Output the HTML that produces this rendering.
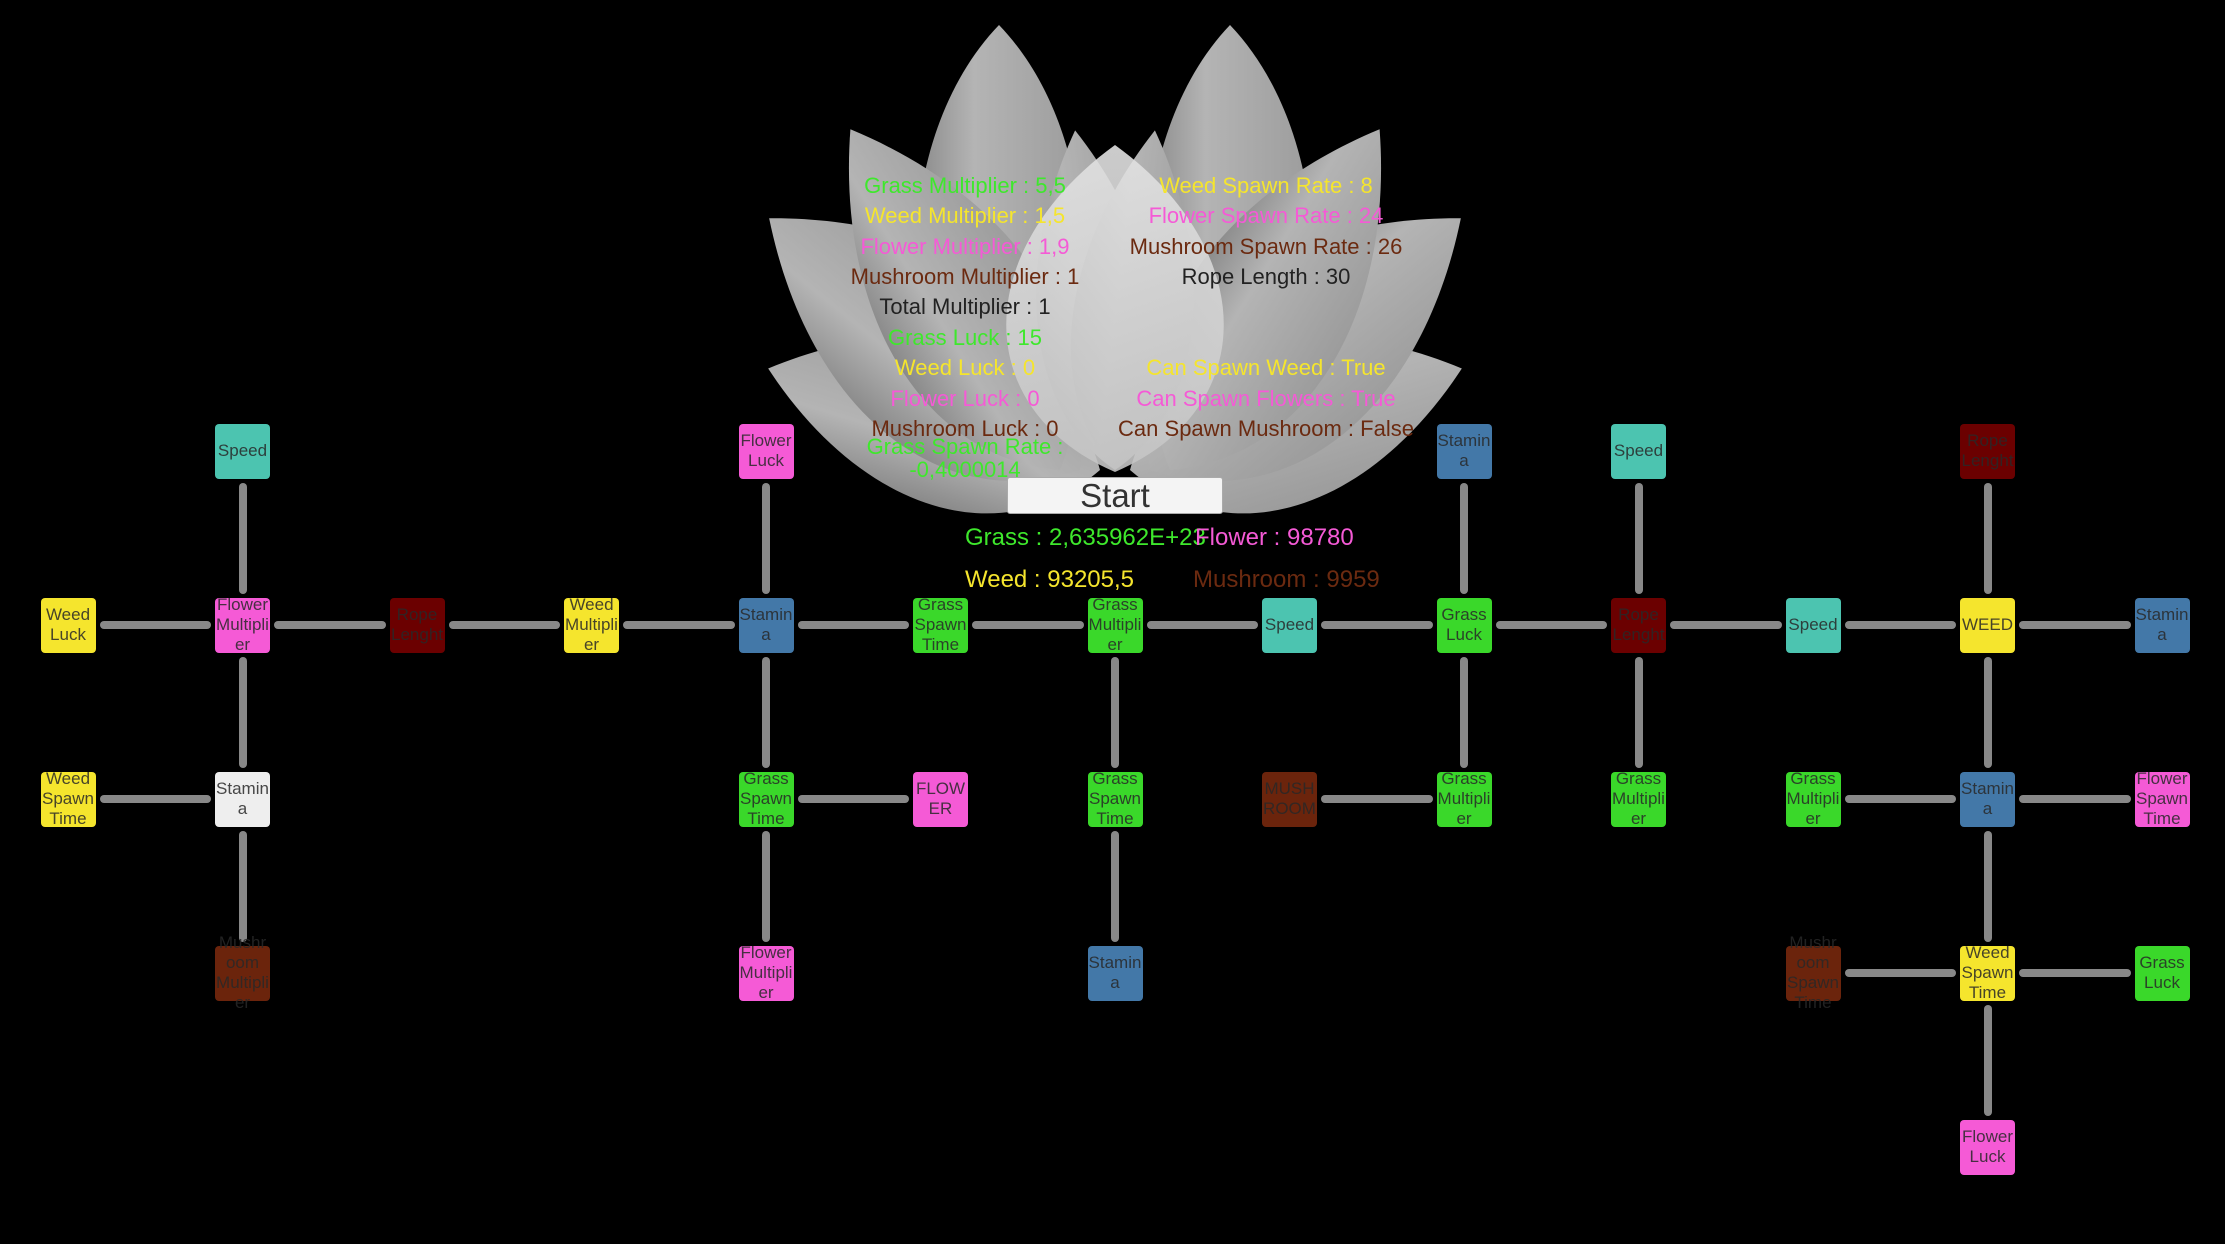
<!DOCTYPE html>
<html><head><meta charset="utf-8"><style>
html,body{margin:0;padding:0;background:#000;}
body{width:2225px;height:1244px;position:relative;overflow:hidden;font-family:"Liberation Sans",sans-serif;}
.n{position:absolute;width:55px;height:55px;border-radius:4px;display:flex;align-items:center;justify-content:center;text-align:center;font-size:17px;line-height:20px;color:rgba(40,40,40,.85);white-space:nowrap;overflow:visible;}
.h{position:absolute;height:8px;width:111.5px;background:#888;border-radius:4px;}
.v{position:absolute;width:8px;height:111px;background:#888;border-radius:4px;}
.t{position:absolute;width:460px;text-align:center;font-size:22px;line-height:30px;white-space:nowrap;}
.L{left:735px}.R{left:1036px}
.g{color:#3ee82c}.y{color:#f5e52d}.p{color:#f55ad6}.b{color:#6b2a10}.k{color:#222}
.te{background:#4cc4b0}.ye{background:#f5e52d}.bl{background:#4378a8}.pi{background:#f55ad6}.gr{background:#3ad82a}.dr{background:#6b0000}.br{background:#6b240c}.wh{background:#eeeeee}
</style></head><body>
<svg width="2225" height="1244" style="position:absolute;left:0;top:0">
<defs>
<linearGradient id="pg" x1="0" y1="0" x2="1" y2="0"><stop offset="0" stop-color="#8a8a8a"/><stop offset="0.35" stop-color="#b4b4b4"/><stop offset="1" stop-color="#9c9c9c"/></linearGradient>
<linearGradient id="pc" x1="0" y1="0" x2="0" y2="1"><stop offset="0" stop-color="#e2e2e2"/><stop offset="1" stop-color="#c4c4c4"/></linearGradient>
</defs>
<g fill="url(#pg)">
<path d="M1000,470 C1110,380 1110,140 999,25 C888,140 888,380 1000,470Z"/>
<path d="M1230,470 C1340,380 1340,140 1230,25 C1120,140 1120,380 1230,470Z"/>
<g transform="translate(1100,470) rotate(-73)"><path transform="scale(110,347)" d="M0,0 C1,-0.2 1,-0.62 0,-1 C-1,-0.62 -1,-0.2 0,0 Z"/></g>
<g transform="translate(1130,470) rotate(73)"><path transform="scale(110,347)" d="M0,0 C1,-0.2 1,-0.62 0,-1 C-1,-0.62 -1,-0.2 0,0 Z"/></g>
<g transform="translate(1080,470) rotate(-51)"><path transform="scale(125,400)" d="M0,0 C1,-0.2 1,-0.62 0,-1 C-1,-0.62 -1,-0.2 0,0 Z"/></g>
<g transform="translate(1150,470) rotate(51)"><path transform="scale(125,400)" d="M0,0 C1,-0.2 1,-0.62 0,-1 C-1,-0.62 -1,-0.2 0,0 Z"/></g>
<g transform="translate(1060,470) rotate(-31.6)"><path transform="scale(110,400)" d="M0,0 C1,-0.2 1,-0.62 0,-1 C-1,-0.62 -1,-0.2 0,0 Z"/></g>
<g transform="translate(1170,470) rotate(31.6)"><path transform="scale(110,400)" d="M0,0 C1,-0.2 1,-0.62 0,-1 C-1,-0.62 -1,-0.2 0,0 Z"/></g>
<g transform="translate(1115,470) rotate(-6.7)"><path transform="scale(80,342)" d="M0,0 C1,-0.2 1,-0.62 0,-1 C-1,-0.62 -1,-0.2 0,0 Z"/></g>
<g transform="translate(1115,470) rotate(6.7)"><path transform="scale(80,342)" d="M0,0 C1,-0.2 1,-0.62 0,-1 C-1,-0.62 -1,-0.2 0,0 Z"/></g>
</g>
<path d="M1115,472 C1260,410 1260,250 1115,145 C970,250 970,410 1115,472Z" fill="url(#pc)" opacity="0.9"/>
</svg>

<div class="t L g" style="top:171px">Grass Multiplier : 5,5</div>
<div class="t L y" style="top:201px">Weed Multiplier : 1,5</div>
<div class="t L p" style="top:232px">Flower Multiplier : 1,9</div>
<div class="t L b" style="top:262px">Mushroom Multiplier : 1</div>
<div class="t L k" style="top:292px">Total Multiplier : 1</div>
<div class="t L g" style="top:323px">Grass Luck : 15</div>
<div class="t L y" style="top:353px">Weed Luck : 0</div>
<div class="t L p" style="top:384px">Flower Luck : 0</div>
<div class="t L b" style="top:414px">Mushroom Luck : 0</div>
<div class="t L g" style="top:432px">Grass Spawn Rate :</div>
<div class="t L g" style="top:455px">-0,4000014</div>

<div class="t R y" style="top:171px">Weed Spawn Rate : 8</div>
<div class="t R p" style="top:201px">Flower Spawn Rate : 24</div>
<div class="t R b" style="top:232px">Mushroom Spawn Rate : 26</div>
<div class="t R k" style="top:262px">Rope Length : 30</div>
<div class="t R y" style="top:353px">Can Spawn Weed : True</div>
<div class="t R p" style="top:384px">Can Spawn Flowers : True</div>
<div class="t R b" style="top:414px">Can Spawn Mushroom : False</div>

<div style="position:absolute;left:1007px;top:477px;width:214px;height:35px;background:#f4f4f4;border:1px solid #aaa;border-radius:3px;text-align:center;font-size:33px;line-height:35px;color:#333">Start</div>

<div style="position:absolute;left:965px;top:524px;font-size:24px;line-height:28px;color:#3ee82c;white-space:nowrap">Grass : 2,635962E+23</div>
<div style="position:absolute;left:1195px;top:524px;font-size:24px;line-height:28px;color:#f55ad6;white-space:nowrap">Flower : 98780</div>
<div style="position:absolute;left:965px;top:566px;font-size:24px;line-height:28px;color:#f5e52d;white-space:nowrap">Weed : 93205,5</div>
<div style="position:absolute;left:1193px;top:566px;font-size:24px;line-height:28px;color:#6b2a10;white-space:nowrap">Mushroom : 9959</div>

<div class="h" style="left:99.5px;top:621px"></div>
<div class="h" style="left:274px;top:621px"></div>
<div class="h" style="left:448.5px;top:621px"></div>
<div class="h" style="left:623px;top:621px"></div>
<div class="h" style="left:797.5px;top:621px"></div>
<div class="h" style="left:972px;top:621px"></div>
<div class="h" style="left:1146.5px;top:621px"></div>
<div class="h" style="left:1321px;top:621px"></div>
<div class="h" style="left:1495.5px;top:621px"></div>
<div class="h" style="left:1670px;top:621px"></div>
<div class="h" style="left:1844.5px;top:621px"></div>
<div class="h" style="left:2019px;top:621px"></div>
<div class="h" style="left:99.5px;top:795px"></div>
<div class="h" style="left:797.5px;top:795px"></div>
<div class="h" style="left:1321px;top:795px"></div>
<div class="h" style="left:1844.5px;top:795px"></div>
<div class="h" style="left:2019px;top:795px"></div>
<div class="h" style="left:1844.5px;top:969px"></div>
<div class="h" style="left:2019px;top:969px"></div>
<div class="v" style="left:238.5px;top:482.5px"></div>
<div class="v" style="left:238.5px;top:656.5px"></div>
<div class="v" style="left:238.5px;top:830.5px"></div>
<div class="v" style="left:762px;top:482.5px"></div>
<div class="v" style="left:762px;top:656.5px"></div>
<div class="v" style="left:762px;top:830.5px"></div>
<div class="v" style="left:1111px;top:656.5px"></div>
<div class="v" style="left:1111px;top:830.5px"></div>
<div class="v" style="left:1460px;top:482.5px"></div>
<div class="v" style="left:1460px;top:656.5px"></div>
<div class="v" style="left:1634.5px;top:482.5px"></div>
<div class="v" style="left:1634.5px;top:656.5px"></div>
<div class="v" style="left:1983.5px;top:482.5px"></div>
<div class="v" style="left:1983.5px;top:656.5px"></div>
<div class="v" style="left:1983.5px;top:830.5px"></div>
<div class="v" style="left:1983.5px;top:1004.5px"></div>

<div class="n te" style="left:215px;top:423.5px">Speed</div>
<div class="n pi" style="left:738.5px;top:423.5px">Flower<br>Luck</div>
<div class="n bl" style="left:1436.5px;top:423.5px">Stamin<br>a</div>
<div class="n te" style="left:1611px;top:423.5px">Speed</div>
<div class="n dr" style="left:1960px;top:423.5px">Rope<br>Lenght</div>
<div class="n ye" style="left:40.5px;top:597.5px">Weed<br>Luck</div>
<div class="n pi" style="left:215px;top:597.5px">Flower<br>Multipli<br>er</div>
<div class="n dr" style="left:389.5px;top:597.5px">Rope<br>Lenght</div>
<div class="n ye" style="left:564px;top:597.5px">Weed<br>Multipli<br>er</div>
<div class="n bl" style="left:738.5px;top:597.5px">Stamin<br>a</div>
<div class="n gr" style="left:913px;top:597.5px">Grass<br>Spawn<br>Time</div>
<div class="n gr" style="left:1087.5px;top:597.5px">Grass<br>Multipli<br>er</div>
<div class="n te" style="left:1262px;top:597.5px">Speed</div>
<div class="n gr" style="left:1436.5px;top:597.5px">Grass<br>Luck</div>
<div class="n dr" style="left:1611px;top:597.5px">Rope<br>Lenght</div>
<div class="n te" style="left:1785.5px;top:597.5px">Speed</div>
<div class="n ye" style="left:1960px;top:597.5px">WEED</div>
<div class="n bl" style="left:2134.5px;top:597.5px">Stamin<br>a</div>
<div class="n ye" style="left:40.5px;top:771.5px">Weed<br>Spawn<br>Time</div>
<div class="n wh" style="left:215px;top:771.5px">Stamin<br>a</div>
<div class="n gr" style="left:738.5px;top:771.5px">Grass<br>Spawn<br>Time</div>
<div class="n pi" style="left:913px;top:771.5px">FLOW<br>ER</div>
<div class="n gr" style="left:1087.5px;top:771.5px">Grass<br>Spawn<br>Time</div>
<div class="n br" style="left:1262px;top:771.5px">MUSH<br>ROOM</div>
<div class="n gr" style="left:1436.5px;top:771.5px">Grass<br>Multipli<br>er</div>
<div class="n gr" style="left:1611px;top:771.5px">Grass<br>Multipli<br>er</div>
<div class="n gr" style="left:1785.5px;top:771.5px">Grass<br>Multipli<br>er</div>
<div class="n bl" style="left:1960px;top:771.5px">Stamin<br>a</div>
<div class="n pi" style="left:2134.5px;top:771.5px">Flower<br>Spawn<br>Time</div>
<div class="n br" style="left:215px;top:945.5px">Mushr<br>oom<br>Multipli<br>er</div>
<div class="n pi" style="left:738.5px;top:945.5px">Flower<br>Multipli<br>er</div>
<div class="n bl" style="left:1087.5px;top:945.5px">Stamin<br>a</div>
<div class="n br" style="left:1785.5px;top:945.5px">Mushr<br>oom<br>Spawn<br>Time</div>
<div class="n ye" style="left:1960px;top:945.5px">Weed<br>Spawn<br>Time</div>
<div class="n gr" style="left:2134.5px;top:945.5px">Grass<br>Luck</div>
<div class="n pi" style="left:1960px;top:1119.5px">Flower<br>Luck</div>
</body></html>
